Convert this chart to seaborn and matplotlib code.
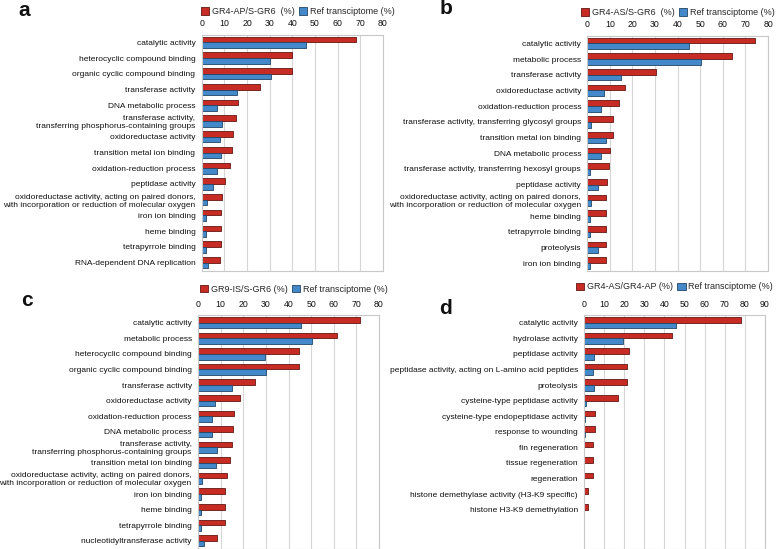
import numpy as np
import pandas as pd
import matplotlib
matplotlib.use("Agg")
import matplotlib.pyplot as plt
import seaborn as sns
from matplotlib.patches import Patch

# --------------------------
# 1. DATA (% of genes)
# --------------------------
REF_NAME = "Ref transciptome (%)"

terms_a = ["catalytic activity", "heterocyclic compound binding",
           "organic cyclic compound binding", "transferase activity",
           "DNA metabolic process",
           "transferase activity,\ntransferring phosphorus-containing groups",
           "oxidoreductase activity", "transition metal ion binding",
           "oxidation-reduction process", "peptidase activity",
           "oxidoreductase activity, acting on paired donors,\nwith incorporation or reduction of molecular oxygen",
           "iron ion binding", "heme binding", "tetrapyrrole binding",
           "RNA-dependent DNA replication"]
sel_a = [68.1, 39.9, 39.9, 25.6, 15.9, 15.3, 14.0, 13.5, 12.6, 10.1, 9.1, 8.7, 8.4, 8.4, 7.9]
ref_a = [45.9, 30.0, 30.4, 15.4, 6.6, 8.8, 7.9, 8.4, 6.6, 4.9, 2.2, 1.8, 1.8, 1.8, 2.6]

terms_b = ["catalytic activity", "metabolic process", "transferase activity",
           "oxidoreductase activity", "oxidation-reduction process",
           "transferase activity, transferring glycosyl groups",
           "transition metal ion binding", "DNA metabolic process",
           "transferase activity, transferring hexosyl groups",
           "peptidase activity",
           "oxidoreductase activity, acting on paired donors,\nwith incorporation or reduction of molecular oxygen",
           "heme binding", "tetrapyrrole binding", "proteolysis", "iron ion binding"]
sel_b = [74.4, 63.9, 30.5, 16.8, 14.1, 11.4, 11.4, 10.0, 9.5, 8.8, 8.4, 8.1, 8.1, 8.1, 8.1]
ref_b = [45.0, 50.3, 15.1, 7.5, 6.2, 1.8, 8.1, 6.2, 1.3, 4.8, 1.8, 1.3, 1.3, 4.8, 1.3]

terms_c = ["catalytic activity", "metabolic process",
           "heterocyclic compound binding", "organic cyclic compound binding",
           "transferase activity", "oxidoreductase activity",
           "oxidation-reduction process", "DNA metabolic process",
           "transferase activity,\ntransferring phosphorus-containing groups",
           "transition metal ion binding",
           "oxidoreductase activity, acting on paired donors,\nwith incorporation or reduction of molecular oxygen",
           "iron ion binding", "heme binding", "tetrapyrrole binding",
           "nucleotidyltransferase activity"]
sel_c = [71.6, 61.4, 44.6, 44.6, 25.3, 18.7, 15.9, 15.5, 15.0, 14.1, 12.8, 12.1, 12.1, 12.1, 8.4]
ref_c = [45.7, 50.4, 29.7, 30.2, 15.0, 7.5, 6.2, 6.2, 8.4, 8.0, 1.8, 1.5, 1.5, 1.5, 2.7]

terms_d = ["catalytic activity", "hydrolase activity", "peptidase activity",
           "peptidase activity, acting on L-amino acid peptides", "proteolysis",
           "cysteine-type peptidase activity", "cysteine-type endopeptidase activity",
           "response to wounding", "fin regeneration", "tissue regeneration",
           "regeneration", "histone demethylase activity (H3-K9 specific)",
           "histone H3-K9 demethylation", " ", "  "]
sel_d = [77.9, 44.0, 22.4, 21.4, 21.4, 16.9, 5.6, 5.6, 4.7, 4.7, 4.7, 2.2, 2.2, 0, 0]
ref_d = [45.8, 19.4, 4.8, 4.3, 4.8, 1.2, 0.3, 0.3, 0.2, 0.2, 0.2, 0.2, 0.2, 0, 0]

RED = "#c62b24"
BLUE = "#4389ca"

# --------------------------
# 2. PANEL DRAWING
# --------------------------
def draw_panel(ax, terms, sel, ref, sel_name, xmax, legend_x, legend_y):
    n = len(terms)
    df = pd.DataFrame({
        "term": terms + terms,
        "series": [sel_name] * n + [REF_NAME] * n,
        "pct": sel + ref,
    })
    sns.barplot(data=df, x="pct", y="term", hue="series", order=terms,
                hue_order=[sel_name, REF_NAME], palette=[RED, BLUE],
                orient="h", width=0.72, saturation=1, errorbar=None,
                linewidth=0.6, legend=False, ax=ax)
    for p in ax.patches:
        fc = np.array(p.get_facecolor())
        p.set_edgecolor(tuple(fc[:3] * 0.5) + (1,))

    ax.set_xlim(0, xmax)
    ax.set_ylim(n - 0.5, -0.5)
    ax.set_xticks(np.arange(0, xmax + 1, 10))
    ax.xaxis.tick_top()
    ax.tick_params(axis="x", length=0, pad=4.5, labelsize=6.3, colors="#111111")
    ax.tick_params(axis="y", which="major", length=0, pad=4.5, labelsize=6.0,
                   colors="#111111")
    ax.set_yticks(np.arange(-0.5, n, 1), minor=True)
    ax.tick_params(axis="y", which="minor", length=3, color="#a0a0a0", width=0.6)
    ax.xaxis.grid(True, color="#d6d6d6", lw=0.8)
    ax.yaxis.grid(False)
    ax.set_axisbelow(True)
    for s in ax.spines.values():
        s.set_color("#c8c8c8")
        s.set_linewidth(0.8)
    ax.set_xlabel("")
    ax.set_ylabel("")

    handles = [Patch(facecolor=RED, edgecolor="#631512", lw=0.6, label=sel_name),
               Patch(facecolor=BLUE, edgecolor="#224565", lw=0.6, label=REF_NAME)]
    ax.legend(handles=handles, loc="center", bbox_to_anchor=(legend_x, legend_y),
              ncol=2, frameon=False, fontsize=6.5, handlelength=0.9,
              handleheight=0.9, handletextpad=0.3, columnspacing=0.5,
              borderaxespad=0, borderpad=0)


sns.set_theme(style="white")
plt.rcParams["font.family"] = ["Liberation Sans", "DejaVu Sans"]

W, H = 778, 549
fig = plt.figure(figsize=(W / 100, H / 100), dpi=100)

def px_axes(x0, x1, y0, y1):
    return fig.add_axes([x0 / W, 1 - y1 / H, (x1 - x0) / W, (y1 - y0) / H])

ax_a = px_axes(201.7, 383.0, 34.5, 270.5)
ax_b = px_axes(587.3, 768.0, 35.5, 271.0)
ax_c = px_axes(198.0, 379.0, 315.0, 548.5)
ax_d = px_axes(584.0, 765.0, 315.0, 548.5)

draw_panel(ax_a, terms_a, sel_a, ref_a, "GR4-AP/S-GR6  (%)", 80, 0.53, 1.097)
draw_panel(ax_b, terms_b, sel_b, ref_b, "GR4-AS/S-GR6  (%)", 80, 0.50, 1.097)
draw_panel(ax_c, terms_c, sel_c, ref_c, "GR9-IS/S-GR6 (%)", 80, 0.53, 1.11)
draw_panel(ax_d, terms_d, sel_d, ref_d, "GR4-AS/GR4-AP (%)", 90, 0.50, 1.12)

# panel letters
for letter, (x, y) in {"a": (24, 10), "b": (446, 8), "c": (27, 301), "d": (446, 309)}.items():
    fig.text(x / W, 1 - y / H, letter, fontsize=15, fontweight="bold",
             ha="center", va="center", color="#111111")

fig.savefig("out.png", dpi=100)
